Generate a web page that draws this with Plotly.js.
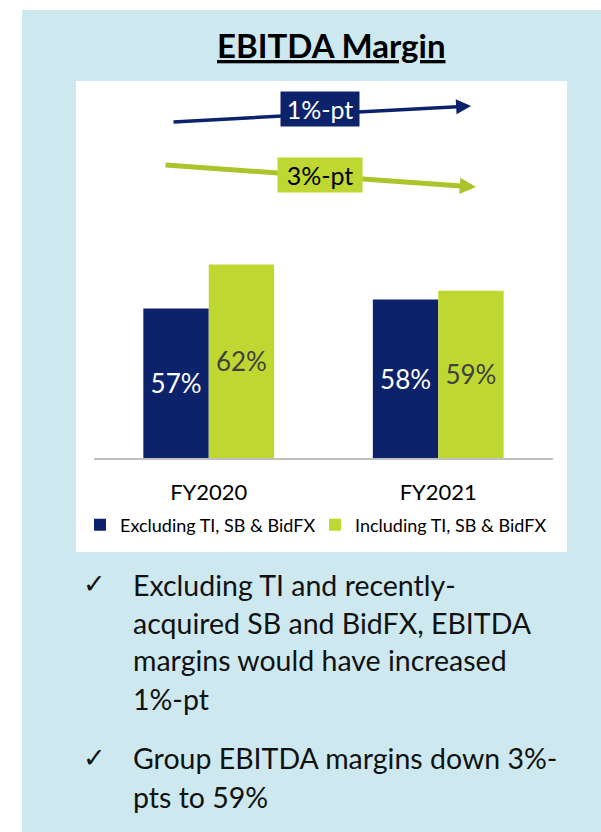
<!DOCTYPE html>
<html>
<head>
<meta charset="utf-8">
<script src="https://cdn.plot.ly/plotly-3.0.1.min.js"></script>
<style>
html,body{margin:0;padding:0;background:#ffffff;}
#chart{width:601px;height:832px;}
</style>
</head>
<body>
<div id="chart"></div>
<script>
// ---- data ----
var categories = ['FY2020', 'FY2021'];
var seriesNames = ['Excluding TI, SB & BidFX', 'Including TI, SB & BidFX'];
var excludingValues = [57, 58];
var includingValues = [62, 59];
var changeLabels = ['1%-pt', '3%-pt'];
var chartTitle = 'EBITDA Margin';
var bullet1Lines = ['Excluding TI and recently-', 'acquired SB and BidFX, EBITDA', 'margins would have increased', '1%-pt'];
var bullet2Lines = ['Group EBITDA margins down 3%-', 'pts to 59%'];
var axisFloor = 40; // value axis starts here (bars rise from it)

var NAVY = '#0c236b';
var GREEN = '#bfd831';
var FONT = 'Lato, "Open Sans", sans-serif';

function barTrace(name, values, color, textColor) {
  return {
    type: 'bar', name: name, x: categories,
    base: values.map(function(){ return axisFloor; }),
    y: values.map(function(v){ return v - axisFloor; }),
    marker: {color: color},
    text: values.map(function(v){ return v + '%'; }),
    textposition: 'inside', insidetextanchor: 'middle',
    textfont: {color: textColor, size: 26, family: FONT},
    hoverinfo: 'skip'
  };
}

var traces = [
  barTrace(seriesNames[0], excludingValues, NAVY, '#ffffff'),
  barTrace(seriesNames[1], includingValues, GREEN, '#404040')
];

// pixel helpers for decoration placement (plot area: x 94..553, y 106..458)
function px(x){ return (x - 94) / 459; }
function py(y){ return (458 - y) / 352; }

var annotations = [
  {text: '<b><u>' + chartTitle + '</u></b>', xref: 'paper', yref: 'paper', x: px(331), y: py(45),
   xanchor: 'center', yanchor: 'middle', showarrow: false, font: {family: FONT, size: 33, color: '#000000'}},
  // navy arrow
  {text: '', xref: 'paper', yref: 'paper', x: px(471), y: py(106), ax: 172 - 471, ay: 122 - 106,
   showarrow: true, arrowhead: 2, arrowwidth: 3.5, arrowsize: 0.85, arrowcolor: NAVY, standoff: 0, startstandoff: 0},
  // green arrow
  {text: '', xref: 'paper', yref: 'paper', x: px(476), y: py(187), ax: 164 - 476, ay: 165 - 187,
   showarrow: true, arrowhead: 2, arrowwidth: 5, arrowsize: 0.65, arrowcolor: '#acc42a', standoff: 0, startstandoff: 0},
  {text: changeLabels[0], xref: 'paper', yref: 'paper', x: px(320), y: py(108.5), xanchor: 'center', yanchor: 'middle',
   showarrow: false, bgcolor: NAVY, width: 76, height: 32, font: {family: FONT, size: 25, color: '#ffffff'}},
  {text: changeLabels[1], xref: 'paper', yref: 'paper', x: px(320), y: py(175), xanchor: 'center', yanchor: 'middle',
   showarrow: false, bgcolor: GREEN, width: 82, height: 32, font: {family: FONT, size: 25, color: '#000000'}}
];

var bulletFont = {family: FONT, size: 28.5, color: '#111111'};
var checkFont = {family: '"DejaVu Sans", sans-serif', size: 27, color: '#111111'};
var b1y = [585, 623, 660, 699];
var b2y = [757.5, 796.5];
annotations.push({text: '\u2713', xref: 'paper', yref: 'paper', x: px(94), y: py(583), xanchor: 'center', yanchor: 'middle', showarrow: false, font: checkFont});
annotations.push({text: '\u2713', xref: 'paper', yref: 'paper', x: px(94), y: py(757), xanchor: 'center', yanchor: 'middle', showarrow: false, font: checkFont});
bullet1Lines.forEach(function(t, i){
  annotations.push({text: t, xref: 'paper', yref: 'paper', x: px(131), y: py(b1y[i]), xanchor: 'left', yanchor: 'middle', showarrow: false, font: bulletFont});
});
bullet2Lines.forEach(function(t, i){
  annotations.push({text: t, xref: 'paper', yref: 'paper', x: px(131), y: py(b2y[i]), xanchor: 'left', yanchor: 'middle', showarrow: false, font: bulletFont});
});

var layout = {
  width: 601, height: 832,
  margin: {l: 94, r: 48, t: 106, b: 374, pad: 0},
  paper_bgcolor: '#ffffff',
  plot_bgcolor: 'rgba(0,0,0,0)',
  barmode: 'group',
  bargap: 0.43,
  bargroupgap: 0,
  showlegend: true,
  legend: {orientation: 'h', x: px(80), xanchor: 'left', y: py(525), yanchor: 'middle',
           font: {family: FONT, size: 18, color: '#000000'}, entrywidth: 190, entrywidthmode: 'pixels',
           bgcolor: 'rgba(0,0,0,0)', traceorder: 'normal'},
  xaxis: {type: 'category', showgrid: false, zeroline: false, showline: true, linecolor: '#bfbfbf', linewidth: 2,
          ticks: '', tickfont: {family: FONT, size: 22, color: '#000000'}, ticklabelstandoff: 14, fixedrange: true},
  yaxis: {range: [axisFloor, 80], visible: false, showgrid: false, zeroline: false, fixedrange: true},
  shapes: [
    {type: 'rect', xref: 'paper', yref: 'paper', x0: px(22), x1: px(640), y0: py(880), y1: py(10),
     fillcolor: '#cde9ef', line: {width: 0}, layer: 'below'},
    {type: 'rect', xref: 'paper', yref: 'paper', x0: px(76), x1: px(567), y0: py(552), y1: py(81),
     fillcolor: '#ffffff', line: {width: 0}, layer: 'below'}
  ],
  annotations: annotations,
  font: {family: FONT}
};

Plotly.newPlot('chart', traces, layout, {staticPlot: true, displayModeBar: false});
</script>
</body>
</html>
